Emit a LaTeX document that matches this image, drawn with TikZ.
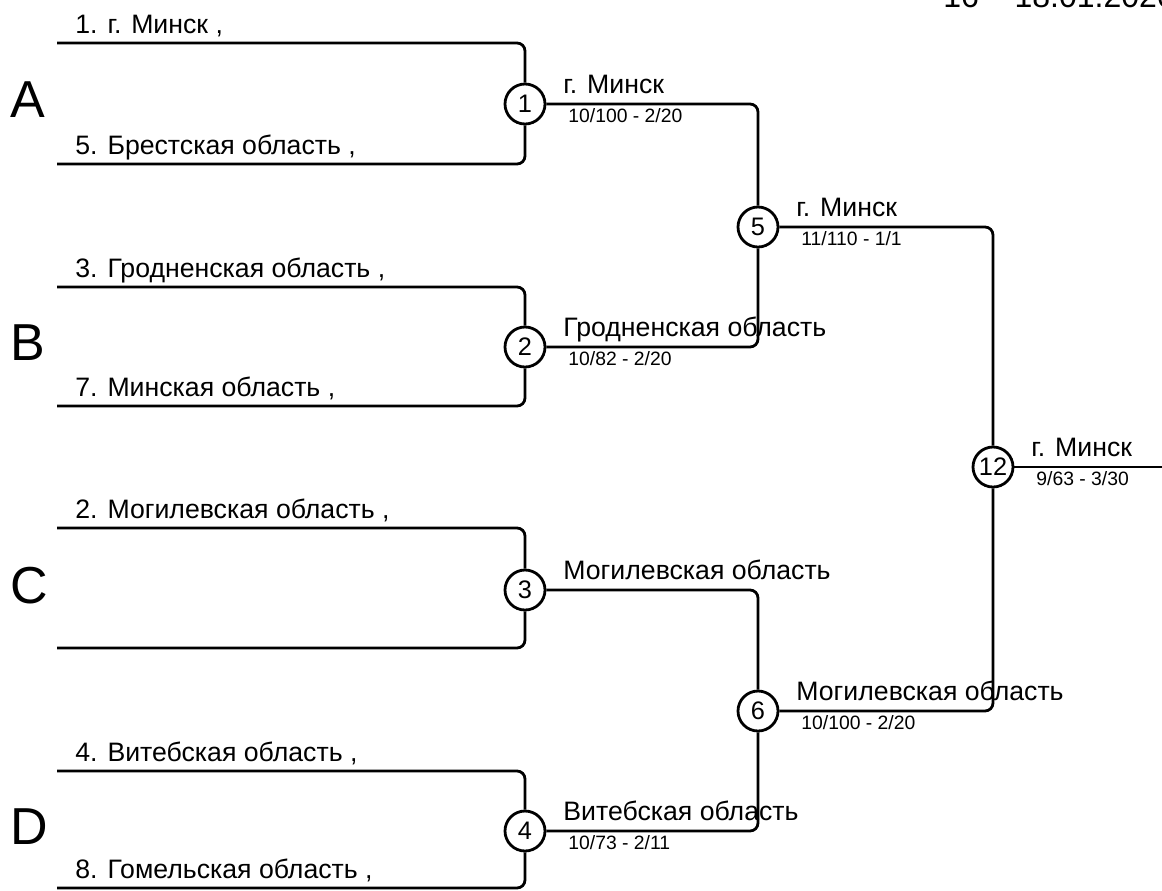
\documentclass[tikz,border=0pt]{standalone}
\usepackage{fontspec}
\setmainfont{Liberation Sans}
\begin{document}
\begin{tikzpicture}[x=0.75pt, y=-0.75pt, line width=2.1pt,
    match/.style={draw, circle, minimum size=30pt, inner sep=0pt,
        font=\fontsize{19}{21}\selectfont},
    team/.style={anchor=base west, inner sep=0pt, font=\fontsize{20}{23}\selectfont},
    score/.style={anchor=base west, inner sep=0pt, font=\fontsize{14.5}{17}\selectfont},
    group/.style={anchor=base west, inner sep=0pt, font=\fontsize{39}{44}\selectfont}]
    \useasboundingbox (0,0) rectangle (1162,890);

    % Date
    \node[anchor=base west, inner sep=0pt, font=\fontsize{24}{28}\selectfont]
        (date) at (942,7.5) {16 – 18.01.2026};

    % Groups
    \node[group] (gA) at (9,117) {A};
    \node[group] (gB) at (9,360) {B};
    \node[group] (gC) at (9,603) {C};
    \node[group] (gD) at (9,844) {D};

    % Seeds
    \coordinate (s1) at (57,43);
    \coordinate (s5) at (57,164);
    \coordinate (s3) at (57,287);
    \coordinate (s7) at (57,406);
    \coordinate (s2) at (57,528);
    \coordinate (s6) at (57,648);
    \coordinate (s4) at (57,771);
    \coordinate (s8) at (57,888);
    \node[team] (t1) at (74,33) {1. г. Минск ,};
    \node[team] (t5) at (74,154) {5. Брестская область ,};
    \node[team] (t3) at (74,277) {3. Гродненская область ,};
    \node[team] (t7) at (74,396) {7. Минская область ,};
    \node[team] (t2) at (74,518) {2. Могилевская область ,};
    \node[team] (t4) at (74,761) {4. Витебская область ,};
    \node[team] (t8) at (74,878) {8. Гомельская область ,};

    % Matches
    \node[match] (m1) at (525,104) {1};
    \node[match] (m2) at (525,347) {2};
    \node[match] (m3) at (525,590) {3};
    \node[match] (m4) at (525,831) {4};
    \node[match] (m5) at (758,227) {5};
    \node[match] (m6) at (758,711) {6};
    \node[match] (m12) at (993,467) {12};
    \coordinate (fin) at (1162,467);

    % Brackets
    \begin{scope}[rounded corners=6pt]
        \draw (s1) -| (m1);
        \draw (s5) -| (m1);
        \draw (s3) -| (m2);
        \draw (s7) -| (m2);
        \draw (s2) -| (m3);
        \draw (s6) -| (m3);
        \draw (s4) -| (m4);
        \draw (s8) -| (m4);
        \draw (m1) -| (m5);
        \draw (m2) -| (m5);
        \draw (m3) -| (m6);
        \draw (m4) -| (m6);
        \draw (m5) -| (m12);
        \draw (m6) -| (m12);
    \end{scope}
    \draw (m12) -- (fin);

    % Winners
    \node[team] (w1) at (562,93) {г. Минск};
    \node[score] (r1) at (567,122) {10/100 - 2/20};
    \node[team] (w2) at (562,336) {Гродненская область};
    \node[score] (r2) at (567,365) {10/82 - 2/20};
    \node[team] (w3) at (562,579) {Могилевская область};
    \node[team] (w4) at (562,820) {Витебская область};
    \node[score] (r4) at (567,849) {10/73 - 2/11};
    \node[team] (w5) at (795,216) {г. Минск};
    \node[score] (r5) at (800,245) {11/110 - 1/1};
    \node[team] (w6) at (795,700) {Могилевская область};
    \node[score] (r6) at (800,729) {10/100 - 2/20};
    \node[team] (w12) at (1030,456) {г. Минск};
    \node[score] (r12) at (1035,485) {9/63 - 3/30};
\end{tikzpicture}
\end{document}
